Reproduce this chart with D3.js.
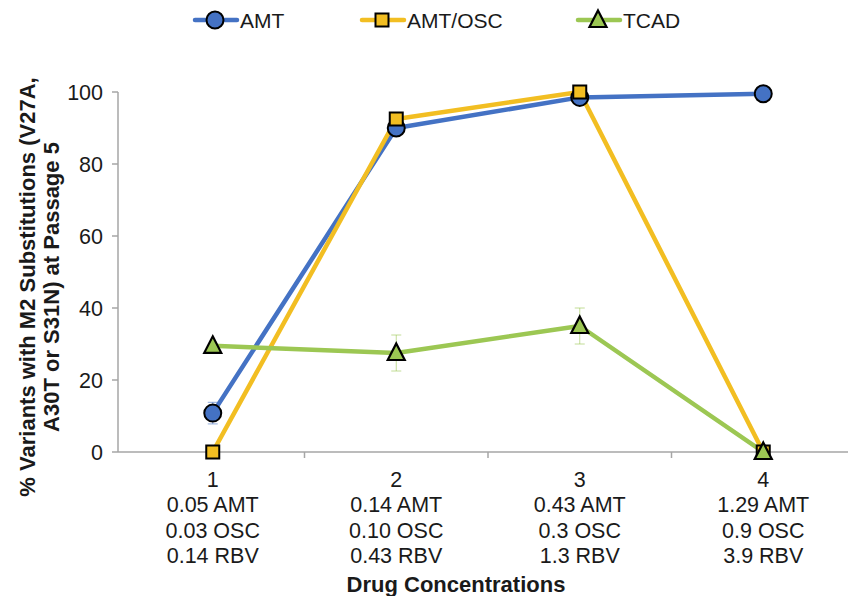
<!DOCTYPE html>
<html>
<head>
<meta charset="utf-8">
<script src="https://cdn.jsdelivr.net/npm/d3@7"></script>
<style>
  body { margin: 0; background: #fff; }
  svg { font-family: "Liberation Sans", Arial, sans-serif; }
</style>
</head>
<body>
<div id="chart"></div>
<script>
const categories = ["1", "2", "3", "4"];
const concLabels = [
    ["0.05 AMT", "0.03 OSC", "0.14 RBV"],
    ["0.14 AMT", "0.10 OSC", "0.43 RBV"],
    ["0.43 AMT", "0.3 OSC", "1.3 RBV"],
    ["1.29 AMT", "0.9 OSC", "3.9 RBV"]
];
const amtValues = [10.8, 90, 98.5, 99.5];
const amtErrors = [3, 0, 0, 0];
const amtOscValues = [0, 92.5, 100, 0];
const amtOscErrors = [0, 0, 0, 0];
const tcadValues = [29.5, 27.5, 35, 0];
const tcadErrors = [0, 5, 5, 0];
const yTicks = [0, 20, 40, 60, 80, 100];

const series = [
    { name: "AMT", values: amtValues, errors: amtErrors, color: "#4472C4", shape: "circle" },
    { name: "AMT/OSC", values: amtOscValues, errors: amtOscErrors, color: "#F2BE22", shape: "square" },
    { name: "TCAD", values: tcadValues, errors: tcadErrors, color: "#9CC753", shape: "triangle" }
];

const width = 848, height = 596;
const plotLeft = 121, plotTop = 92, plotBottom = 452;
const plotRight = plotLeft + 4 * 183.5;

const svg = d3.select("#chart").append("svg")
    .attr("width", width)
    .attr("height", height);

const x = d3.scaleBand().domain(categories).range([plotLeft, plotRight]);
const y = d3.scaleLinear().domain([0, 100]).range([plotBottom, plotTop]);

// y axis
svg.append("line")
    .attr("x1", plotLeft - 3).attr("x2", plotLeft - 3)
    .attr("y1", y(100)).attr("y2", y(0))
    .attr("stroke", "#a6a6a6").attr("stroke-width", 1.5);

svg.selectAll(".ytick")
    .data(yTicks)
    .join("line")
    .attr("x1", plotLeft - 9).attr("x2", plotLeft - 3)
    .attr("y1", d => y(d)).attr("y2", d => y(d))
    .attr("stroke", "#a6a6a6").attr("stroke-width", 1.5);

svg.selectAll(".ylabel")
    .data(yTicks)
    .join("text")
    .attr("x", plotLeft - 18)
    .attr("y", d => y(d))
    .attr("dy", "0.35em")
    .attr("text-anchor", "end")
    .style("font-size", "21.5px")
    .attr("fill", "#1a1a1a")
    .text(d => d);

// x axis
svg.append("line")
    .attr("x1", plotLeft - 3).attr("x2", plotRight)
    .attr("y1", y(0)).attr("y2", y(0))
    .attr("stroke", "#a6a6a6").attr("stroke-width", 1.5);

svg.selectAll(".xtick")
    .data(categories.slice(1))
    .join("line")
    .attr("x1", d => x(d)).attr("x2", d => x(d))
    .attr("y1", y(0)).attr("y2", y(0) + 6)
    .attr("stroke", "#a6a6a6").attr("stroke-width", 1.5);

const xLabels = svg.selectAll(".xlabel")
    .data(categories)
    .join("text")
    .attr("x", d => x(d) + x.bandwidth() / 2)
    .attr("y", 487)
    .attr("text-anchor", "middle")
    .style("font-size", "21.5px")
    .attr("fill", "#1a1a1a");

xLabels.append("tspan")
    .attr("x", d => x(d) + x.bandwidth() / 2)
    .text(d => d);

[0, 1, 2].forEach(k => {
    xLabels.append("tspan")
        .attr("x", d => x(d) + x.bandwidth() / 2)
        .attr("dy", 25.3)
        .text((d, i) => concLabels[i][k]);
});

// axis titles
svg.append("text")
    .attr("x", 456).attr("y", 592)
    .attr("text-anchor", "middle")
    .style("font-size", "22px").style("font-weight", "bold")
    .attr("fill", "#1a1a1a")
    .text("Drug Concentrations");

const yTitle = svg.append("text")
    .attr("transform", "translate(35,287) rotate(-90)")
    .attr("text-anchor", "middle")
    .style("font-size", "22px").style("font-weight", "bold")
    .attr("fill", "#1a1a1a");
yTitle.append("tspan").attr("x", 0).attr("y", 0)
    .text("% Variants with M2 Substitutions (V27A,");
yTitle.append("tspan").attr("x", 0).attr("y", 24)
    .text("A30T or S31N) at Passage 5");

const cx = i => x(categories[i]) + x.bandwidth() / 2;

function drawMarker(g, shape, color, px, py) {
    if (shape === "circle") {
        g.append("circle").attr("cx", px).attr("cy", py).attr("r", 8.5)
            .attr("fill", color).attr("stroke", "#000").attr("stroke-width", 2);
    } else if (shape === "square") {
        g.append("rect").attr("x", px - 6.5).attr("y", py - 6.5)
            .attr("width", 13).attr("height", 13)
            .attr("fill", color).attr("stroke", "#000").attr("stroke-width", 2);
    } else {
        g.append("path")
            .attr("d", `M${px},${py - 9.5} L${px + 8.5},${py + 7} L${px - 8.5},${py + 7} Z`)
            .attr("fill", color).attr("stroke", "#000").attr("stroke-width", 2.2)
            .attr("stroke-linejoin", "miter");
    }
}

const line = d3.line().x((d, i) => cx(i)).y(d => y(d));

series.forEach(s => {
    const g = svg.append("g");
    // error bars
    s.values.forEach((v, i) => {
        const e = s.errors[i];
        if (!e) return;
        g.append("line").attr("x1", cx(i)).attr("x2", cx(i))
            .attr("y1", y(v - e)).attr("y2", y(v + e))
            .attr("stroke", s.color).attr("stroke-width", 1).attr("opacity", 0.6);
        [v - e, v + e].forEach(t => {
            g.append("line").attr("x1", cx(i) - 5).attr("x2", cx(i) + 5)
                .attr("y1", y(t)).attr("y2", y(t))
                .attr("stroke", s.color).attr("stroke-width", 1).attr("opacity", 0.6);
        });
    });
    g.append("path")
        .datum(s.values)
        .attr("d", line)
        .attr("fill", "none")
        .attr("stroke", s.color)
        .attr("stroke-width", 4.5)
        .attr("stroke-linejoin", "round");
});

series.forEach(s => {
    const g = svg.append("g");
    s.values.forEach((v, i) => drawMarker(g, s.shape, s.color, cx(i), y(v)));
});

// legend
const legendX = [195, 362, 578];
series.forEach((s, i) => {
    const g = svg.append("g");
    const lx = legendX[i];
    g.append("line").attr("x1", lx).attr("x2", lx + 42)
        .attr("y1", 20).attr("y2", 20)
        .attr("stroke", s.color).attr("stroke-width", 4.5).attr("stroke-linecap", "round");
    drawMarker(g, s.shape, s.color, lx + 20, 20);
    g.append("text").attr("x", lx + 45).attr("y", 20).attr("dy", "0.36em")
        .style("font-size", "21px").attr("fill", "#1a1a1a").text(s.name);
});
</script>
</body>
</html>
